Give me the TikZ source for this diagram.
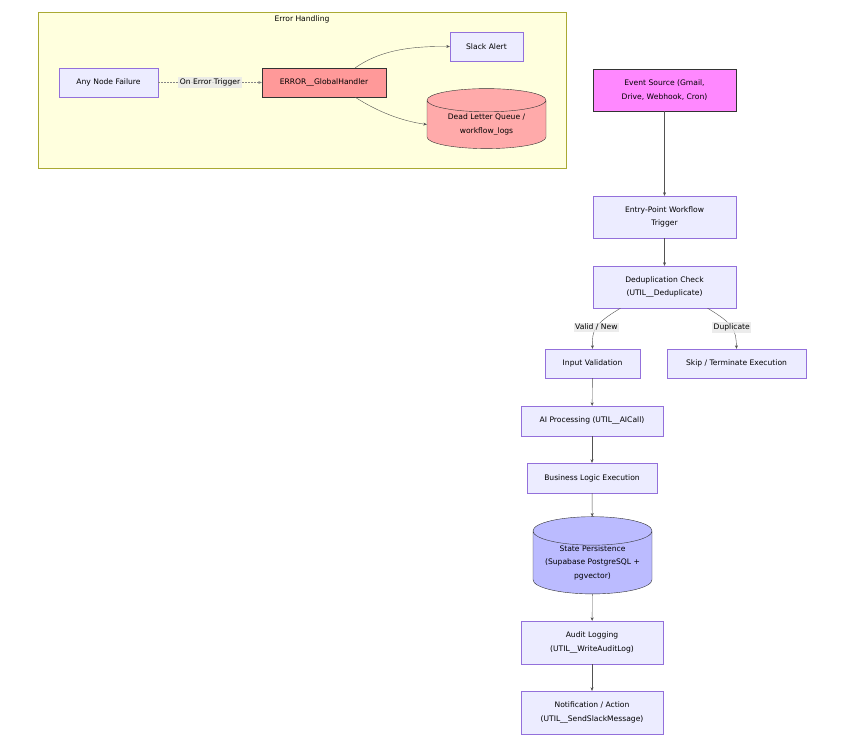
\documentclass[tikz,border=0pt]{standalone}
\usepackage{fontspec}
\setmainfont{DejaVu Sans}
\usetikzlibrary{positioning}
\usetikzlibrary{shapes.geometric}
\usetikzlibrary{arrows.meta}

\definecolor{nodefill}{HTML}{ECECFF}
\definecolor{nodeline}{HTML}{9370DB}
\definecolor{groupfill}{HTML}{FFFFDE}
\definecolor{groupline}{HTML}{AAAA33}
\definecolor{errfill}{HTML}{FF9999}
\definecolor{dlqfill}{HTML}{FFAAAA}
\definecolor{srcfill}{HTML}{FF88FF}
\definecolor{dbfill}{HTML}{BBBBFF}
\definecolor{darkline}{HTML}{333333}
\definecolor{tagfill}{HTML}{E8E8E8}

\begin{document}
\begin{tikzpicture}
[x=1pt,y=-1pt,
 font=\fontsize{7.6}{13.5}\selectfont,
 box/.style={shape=rectangle,draw=nodeline,fill=nodefill,align=center,inner sep=0pt},
 dark/.style={draw=darkline},
 store/.style={cylinder,shape border rotate=90,aspect=0.3,draw=darkline,align=center,inner sep=0pt},
 flow/.style={draw=darkline!85,-{Stealth[length=3.5pt,width=3pt]}},
 tag/.style={fill=tagfill,fill opacity=0.8,text opacity=1,inner sep=1.5pt}]

\useasboundingbox [fill=white] (0,0) rectangle (848,750);

\draw [draw=groupline,fill=groupfill] (38,12) rectangle (566,168);
\node (grp) at (302,19.5) {Error Handling};

\node (fail) [box,minimum width=99,minimum height=29] at (108.5,82.5) {Any Node Failure};
\node (handler) [box,dark,fill=errfill,minimum width=124,minimum height=29] at (324,82.5) {ERROR\_\_GlobalHandler};
\node (slack) [box,minimum width=73,minimum height=29] at (486.5,46.5) {Slack Alert};
\node (dlq) [store,fill=dlqfill,minimum width=119,minimum height=60] at (486.5,124.5) {Dead Letter Queue /\\workflow\_logs};

\draw [flow,draw=darkline!60,dash pattern=on 1.5pt off 1.5pt] (fail) -- node [tag] {On Error Trigger} (handler);
\draw [flow] ([xshift=-31pt]handler.north east) .. controls (378,52) and (405,46) .. (slack.west);
\draw [flow] ([xshift=-31pt]handler.south east) .. controls (378,112) and (402,121) .. (dlq.west);

\node (src) [box,dark,fill=srcfill,minimum width=143,minimum height=42] at (664.5,90) {Event Source (Gmail,\\Drive, Webhook, Cron)};
\node (entry) [box,minimum width=143,minimum height=42] at (664.5,217) {Entry-Point Workflow\\Trigger};
\node (dedup) [box,minimum width=143,minimum height=42] at (664.5,287) {Deduplication Check\\(UTIL\_\_Deduplicate)};
\node (valid) [box,minimum width=95,minimum height=29] at (592.5,363.5) {Input Validation};
\node (skip) [box,minimum width=139,minimum height=29] at (736.5,363.5) {Skip / Terminate Execution};
\node (ai) [box,minimum width=142,minimum height=30] at (592,421) {AI Processing (UTIL\_\_AICall)};
\node (logic) [box,minimum width=130,minimum height=30] at (592,478) {Business Logic Execution};
\node (state) [store,fill=dbfill,minimum width=119,minimum height=73] at (592.5,562.5) {State Persistence\\(Supabase PostgreSQL +\\pgvector)};
\node (audit) [box,minimum width=142,minimum height=43] at (592,642.5) {Audit Logging\\(UTIL\_\_WriteAuditLog)};
\node (notify) [box,minimum width=142,minimum height=43] at (592,712.5) {Notification / Action\\(UTIL\_\_SendSlackMessage)};

\draw [flow] (src) -- (entry);
\draw [flow] (entry) -- (dedup);
\draw [flow] ([xshift=-44pt]dedup.south) .. controls (594,324) and (592,330) .. node [tag,pos=0.5] {Valid / New} (valid.north);
\draw [flow] ([xshift=43pt]dedup.south) .. controls (734,324) and (736,330) .. node [tag,pos=0.5] {Duplicate} (skip.north);
\draw [flow] (valid) -- (ai);
\draw [flow] (ai) -- (logic);
\draw [flow] (logic) -- (state);
\draw [flow] (state) -- (audit);
\draw [flow] (audit) -- (notify);

\end{tikzpicture}
\end{document}
